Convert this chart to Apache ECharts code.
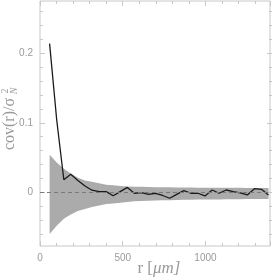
<!DOCTYPE html>
<html>
<head>
<meta charset="utf-8">
<script src="https://cdn.jsdelivr.net/npm/echarts@6/dist/echarts.min.js"></script>
<style>
html,body{margin:0;padding:0;background:#fff;}
#c{width:273px;height:277px;}
</style>
</head>
<body>
<div id="c"></div>
<script>
// r values (micrometres) of the measured bins
var rValues = [58, 101, 144, 186, 229, 272, 314, 357, 400, 442, 485, 528, 570, 613, 656, 698,
               741, 784, 826, 869, 912, 954, 997, 1040, 1082, 1125, 1168, 1210, 1253, 1296, 1338, 1381];
// measured covariance cov(r)/sigma_N^2
var covValues = [0.214, 0.104, 0.018, 0.026, 0.017, 0.009, 0.003, 0.001, 0.001, -0.005, 0.001, 0.007,
                 -0.0014, -0.0006, -0.003, -0.0014, -0.0046, -0.0086, -0.003, 0.0023, -0.0014, -0.0014,
                 -0.0053, 0.0033, -0.0014, 0.0033, 0.001, -0.001, -0.0039, 0.0052, 0.0043, -0.0039];
// noise band (upper and lower envelope)
var bandUpper = [0.054, 0.043, 0.034, 0.027, 0.021, 0.017, 0.015, 0.013, 0.011, 0.010, 0.009, 0.0085,
                 0.008, 0.0078, 0.0076, 0.0074, 0.0072, 0.0071, 0.0070, 0.0069, 0.0068, 0.0067, 0.0066,
                 0.0066, 0.0065, 0.0065, 0.0064, 0.0064, 0.0063, 0.0063, 0.0062, 0.0062];
var bandLower = [-0.060, -0.048, -0.038, -0.032, -0.027, -0.024, -0.021, -0.019, -0.017, -0.016, -0.015,
                 -0.014, -0.013, -0.0125, -0.012, -0.0118, -0.0115, -0.0113, -0.0111, -0.0109, -0.0107,
                 -0.0105, -0.0104, -0.0103, -0.0102, -0.0101, -0.0100, -0.0099, -0.0098, -0.0097, -0.0096, -0.0096];
// axis ranges and tick steps
var xRange = [0, 1390];
var yRange = [-0.0773, 0.2753];
var xMinorStep = 100, xMajorStep = 500;
var yMinorRange = [-0.06, 0.26], yMinorStep = 0.02;
var yMajorRange = [0, 0.2], yMajorStep = 0.1;

var chart = echarts.init(document.getElementById('c'), null, {renderer: 'canvas'});

var frameColor = '#c8c8c8';
var labelColor = '#9a9a9a';
var G = {left: 40, right: 1, top: 1, bottom: 31};
var plotH = 277 - G.top - G.bottom;
var pxPerUnit = plotH / (yRange[1] - yRange[0]);
// sub-grids so that tick axes start exactly on a multiple of their step
function subGrid(range) {
  return {left: G.left, right: G.right,
          top: G.top + (yRange[1] - range[1]) * pxPerUnit,
          bottom: G.bottom + (range[0] - yRange[0]) * pxPerUnit, show: false};
}

function hiddenX(gi) { return {type: 'value', gridIndex: gi, min: xRange[0], max: xRange[1], show: false}; }
function tickX(pos, step, len, labels) {
  return {
    type: 'value', gridIndex: 0, position: pos, min: xRange[0], max: xRange[1], interval: step,
    axisLine: {show: false},
    axisTick: {show: true, inside: true, length: len, lineStyle: {color: frameColor, width: 1}},
    axisLabel: {show: labels, color: labelColor, fontFamily: 'Liberation Sans', fontSize: 10, margin: 7,
      formatter: function (v) { return (v % xMajorStep === 0) ? String(v) : ''; }},
    splitLine: {show: false}
  };
}
function tickY(gi, pos, range, step, len, labels) {
  return {
    type: 'value', gridIndex: gi, position: pos, min: range[0], max: range[1], interval: step,
    axisLine: {show: false},
    axisTick: {show: true, inside: true, length: len, lineStyle: {color: frameColor, width: 1}},
    axisLabel: {show: labels, color: labelColor, fontFamily: 'Liberation Sans', fontSize: 10, margin: 7,
      formatter: function (v) { return v === 0 ? '0' : v.toFixed(1); }},
    splitLine: {show: false}
  };
}

var lineData = rValues.map(function (r, i) { return [r, covValues[i]]; });
var bandData = rValues.map(function (r, i) { return [r, bandLower[i], bandUpper[i]]; });

chart.setOption({
  animation: false,
  backgroundColor: '#fff',
  grid: [
    {left: G.left, right: G.right, top: G.top, bottom: G.bottom, show: true, borderColor: frameColor, borderWidth: 1, backgroundColor: 'transparent'},
    subGrid(yMinorRange),
    subGrid(yMajorRange)
  ],
  xAxis: [
    {type: 'value', gridIndex: 0, min: xRange[0], max: xRange[1], show: false},
    tickX('bottom', xMinorStep, 3, false),
    tickX('bottom', xMajorStep, 5, true),
    tickX('top', xMinorStep, 3, false),
    tickX('top', xMajorStep, 5, false),
    hiddenX(1),
    hiddenX(2)
  ],
  yAxis: [
    {type: 'value', gridIndex: 0, min: yRange[0], max: yRange[1], show: false},
    tickY(1, 'left', yMinorRange, yMinorStep, 3, false),
    tickY(1, 'right', yMinorRange, yMinorStep, 3, false),
    tickY(2, 'left', yMajorRange, yMajorStep, 5, true),
    tickY(2, 'right', yMajorRange, yMajorStep, 5, false)
  ],
  series: [
    {
      type: 'custom', xAxisIndex: 0, yAxisIndex: 0, data: bandData, clip: true, silent: true, z: 1,
      encode: {x: 0, y: [1, 2]},
      renderItem: function (params, api) {
        if (params.dataIndex !== 0) return null;
        var pts = [];
        for (var i = 0; i < bandData.length; i++) pts.push(api.coord([bandData[i][0], bandData[i][2]]));
        for (var j = bandData.length - 1; j >= 0; j--) pts.push(api.coord([bandData[j][0], bandData[j][1]]));
        return {type: 'polygon', shape: {points: pts}, style: {fill: '#ababab', stroke: null}};
      }
    },
    {
      type: 'line', xAxisIndex: 0, yAxisIndex: 0, data: lineData, symbol: 'none',
      lineStyle: {color: '#1a1a1a', width: 1.3}, z: 3,
      markLine: {
        silent: true, symbol: 'none', label: {show: false},
        lineStyle: {color: '#7a7a7a', type: [4, 3], width: 1},
        data: [{yAxis: 0}]
      }
    }
  ],
  graphic: [
    {type: 'text', x: 153, y: 269, style: {text: 'r [', fill: labelColor, font: '17px "Liberation Serif"', align: 'right', verticalAlign: 'middle'}},
    {type: 'text', x: 153, y: 269, style: {text: 'μm]', fill: labelColor, font: 'italic 17px "Liberation Serif"', align: 'left', verticalAlign: 'middle'}},
    {type: 'text', x: 10, y: 124, rotation: Math.PI / 2, style: {text: 'cov(r)/σ', fill: labelColor, font: '16px "Liberation Serif"', align: 'center', verticalAlign: 'middle'}},
    {type: 'text', x: 5, y: 91, rotation: Math.PI / 2, style: {text: '2', fill: labelColor, font: '10px "Liberation Serif"', align: 'center', verticalAlign: 'middle'}},
    {type: 'text', x: 14, y: 91, rotation: Math.PI / 2, style: {text: 'N', fill: labelColor, font: 'italic 10px "Liberation Serif"', align: 'center', verticalAlign: 'middle'}}
  ]
});
</script>
</body>
</html>
